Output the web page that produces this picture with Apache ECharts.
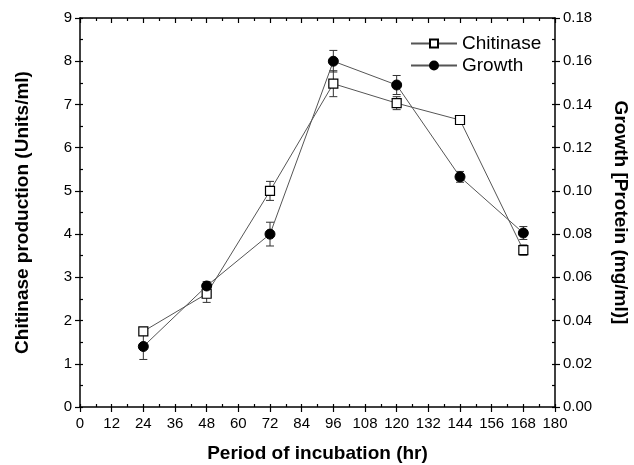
<!DOCTYPE html>
<html><head><meta charset="utf-8">
<script src="https://cdn.jsdelivr.net/npm/echarts@6/dist/echarts.min.js"></script>
<style>html,body{margin:0;padding:0;background:#fff}#c{width:634px;height:465px}</style>
</head><body><div id="c"></div>
<script>
var hours = [24, 48, 72, 96, 120, 144, 168];
var chitinase = [1.75, 2.62, 5.0, 7.48, 7.03, 6.64, 3.63];
var chitinaseErr = [0.06, 0.2, 0.22, 0.3, 0.15, 0.1, 0.12];
var growth = [0.028, 0.056, 0.080, 0.160, 0.149, 0.1065, 0.0805];
var growthErr = [0.006, 0.002, 0.0055, 0.005, 0.0044, 0.0025, 0.003];

var FONT = '"Liberation Sans", Arial, sans-serif';
var chart = echarts.init(document.getElementById('c'));

function pairs(xs, ys) { return xs.map(function (x, i) { return [x, ys[i]]; }); }
function errData(xs, ys, es) { return xs.map(function (x, i) { return [x, ys[i] - es[i], ys[i] + es[i]]; }); }
function errRender(params, api) {
  var x = api.value(0);
  var lo = api.coord([x, api.value(1)]);
  var hi = api.coord([x, api.value(2)]);
  var w = 4;
  var st = { stroke: '#333', lineWidth: 1 };
  return { type: 'group', children: [
    { type: 'line', shape: { x1: lo[0], y1: lo[1], x2: hi[0], y2: hi[1] }, style: st },
    { type: 'line', shape: { x1: lo[0] - w, y1: lo[1], x2: lo[0] + w, y2: lo[1] }, style: st },
    { type: 'line', shape: { x1: hi[0] - w, y1: hi[1], x2: hi[0] + w, y2: hi[1] }, style: st }
  ]};
}

var axisLine = { onZero: false, lineStyle: { color: '#000', width: 1.5 } };
var noLine = { show: false, onZero: false };
var labelStyle = { color: '#000', fontSize: 15, fontFamily: FONT, margin: 8 };
var nameStyle = { color: '#000', fontSize: 19, fontWeight: 'bold', fontFamily: FONT };
var tickStyle = { color: '#000', width: 1.2 };

var option = {
  animation: false,
  grid: { left: 80, right: 79, top: 18, bottom: 58, containLabel: false, outerBoundsMode: 'none' },
  legend: {
    left: 410, top: 34, padding: 0, orient: 'vertical', itemGap: 3, itemWidth: 46, itemHeight: 10,
    textStyle: { color: '#000', fontSize: 19, fontFamily: FONT },
    data: ['Chitinase', 'Growth']
  },
  xAxis: [
    { type: 'value', position: 'bottom', min: 0, max: 180, interval: 12,
      axisLine: axisLine, axisTick: { length: 5, lineStyle: tickStyle },
      axisLabel: Object.assign({}, labelStyle, { margin: 9 }), splitLine: { show: false },
      name: 'Period of incubation (hr)', nameLocation: 'middle', nameGap: 37, nameTextStyle: nameStyle },
    { type: 'value', position: 'bottom', min: 0, max: 180, interval: 6,
      axisLine: noLine, axisTick: { inside: true, length: 3, lineStyle: tickStyle },
      axisLabel: { show: false }, splitLine: { show: false } },
    { type: 'value', position: 'top', min: 0, max: 180, interval: 12,
      axisLine: axisLine, axisTick: { inside: true, length: 5, lineStyle: tickStyle },
      minorTick: { show: true, splitNumber: 2, length: 3, lineStyle: tickStyle },
      axisLabel: { show: false }, splitLine: { show: false } }
  ],
  yAxis: [
    { type: 'value', position: 'left', min: 0, max: 9, interval: 1,
      axisLine: axisLine, axisTick: { length: 5, lineStyle: tickStyle },
      axisLabel: labelStyle, splitLine: { show: false },
      name: 'Chitinase production (Units/ml)', nameLocation: 'middle', nameGap: 48, nameRotate: 90, nameTextStyle: nameStyle },
    { type: 'value', position: 'left', min: 0, max: 9, interval: 0.5,
      axisLine: noLine, axisTick: { inside: true, length: 3, lineStyle: tickStyle },
      axisLabel: { show: false }, splitLine: { show: false } },
    { type: 'value', position: 'right', min: 0, max: 0.18, interval: 0.02,
      axisLine: axisLine, axisTick: { length: 5, lineStyle: tickStyle },
      axisLabel: Object.assign({ formatter: function (v) { return v.toFixed(2); } }, labelStyle),
      splitLine: { show: false },
      name: 'Growth [Protein (mg/ml)]', nameLocation: 'middle', nameGap: 56, nameRotate: -90, nameTextStyle: nameStyle },
    { type: 'value', position: 'right', min: 0, max: 0.18, interval: 0.01,
      axisLine: noLine, axisTick: { inside: true, length: 3, lineStyle: tickStyle },
      axisLabel: { show: false }, splitLine: { show: false } }
  ],
  series: [
    { type: 'custom', xAxisIndex: 0, yAxisIndex: 0, renderItem: errRender, data: errData(hours, chitinase, chitinaseErr), z: 1, silent: true },
    { type: 'custom', xAxisIndex: 0, yAxisIndex: 2, renderItem: errRender, data: errData(hours, growth, growthErr), z: 1, silent: true },
    { name: 'Chitinase', type: 'line', xAxisIndex: 0, yAxisIndex: 0, data: pairs(hours, chitinase),
      symbol: 'rect', symbolSize: 9, showAllSymbol: true,
      lineStyle: { color: '#555', width: 1 },
      itemStyle: { color: '#fff', borderColor: '#000', borderWidth: 1.2 }, z: 3 },
    { name: 'Growth', type: 'line', xAxisIndex: 0, yAxisIndex: 2, data: pairs(hours, growth),
      symbol: 'circle', symbolSize: 10, showAllSymbol: true,
      lineStyle: { color: '#555', width: 1 },
      itemStyle: { color: '#000', borderColor: '#000', borderWidth: 1 }, z: 4 }
  ]
};
chart.setOption(option);
</script>
</body></html>
